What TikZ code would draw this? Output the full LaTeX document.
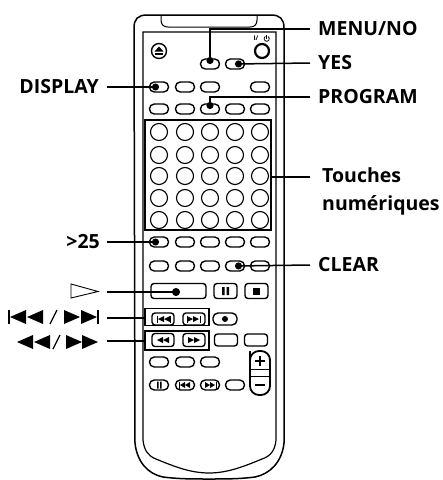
\documentclass[tikz,border=0pt]{standalone}
\usepackage{fontspec}
\setmainfont{Open Sans}
\usetikzlibrary{arrows.meta,positioning,calc,shapes.geometric}
\newcommand{\triL}[4]{\fill (#1,#2) -- ++(#3,-#4) -- ++(0,2*#4) -- cycle;}

\begin{document}
\begin{tikzpicture}[
  x=1pt, y=-1pt,
  oval/.style={draw, line width=1.4pt, rounded corners=4.8pt, minimum width=19pt, minimum height=10pt, inner sep=0pt},
  numkey/.style={draw, circle, line width=1.1pt, minimum size=17pt, inner sep=0pt},
  wide/.style={draw, line width=1.4pt, rounded corners=3pt, minimum width=#1, minimum height=13pt, inner sep=0pt},
  group/.style={draw, line width=1.7pt, inner sep=0pt},
  lab/.style={font=\fontsize{19.5}{28}\selectfont\bfseries, inner sep=0pt, align=left},
  leader/.style={line width=1.5pt, -{Circle[length=7pt]}},
  plain/.style={line width=1.5pt},
]
  \useasboundingbox (0,0) rectangle (443,480);

  % Body of the remote
  \draw[line width=1.5pt] (135,443) -- (134,28) .. controls (134,19) and (138,15) .. (147,15) -- (271,15)
    .. controls (280,15) and (284,19) .. (284,28) -- (284,443) .. controls (282,462) and (270,474) .. (255,477)
    .. controls (240,479) and (225,479) .. (209,479) .. controls (193,479) and (178,479) .. (163,477)
    .. controls (148,474) and (137,462) .. (135,443);
  \draw[line width=1.2pt] (143,440) -- (143,32) -- (276,32) -- (276,440)
    .. controls (275,450) and (271,456) .. (262,459) .. controls (245,466) and (228,473) .. (209,473)
    .. controls (190,473) and (173,466) .. (156,459) .. controls (148,456) and (144,450) .. (143,440);
  \draw[line width=1pt] (161,15) -- (161,20) .. controls (161,25) and (164,27) .. (168,27) -- (250,27)
    .. controls (254,27) and (257,25) .. (257,20) -- (257,15);

  % Top keys
  \node[draw, circle, line width=1.4pt, minimum size=15pt, inner sep=0pt] (eject) at (159,51) {};
  \fill (154.5,51.5) -- (159,46.5) -- (163.5,51.5) -- cycle;
  \fill (155,52.5) rectangle (163,54.5);
  \node[draw, circle, line width=2.2pt, minimum size=14pt, inner sep=0pt] (power) at (262,51) {};
  \node[font=\fontsize{6.5}{7}\selectfont\bfseries, inner sep=0pt] (powertxt) at (256,38.5) {I/};
  \draw[line width=0.8pt] (268,36.5) arc[start angle=-60, end angle=240, radius=2.6];
  \draw[line width=0.8pt] (266.7,35) -- (266.7,39);
  \node[oval] (menukey) at (210,64) {};
  \node[oval] (yeskey) at (235,64) {};

  % Rows of oval keys
  \foreach \xx/\nm in {159/a,185/b,210/c,260/e} \node[oval] (rowtwo\nm) at (\xx,87) {};
  \foreach \xx/\nm in {159/a,185/b,210/c,235/d,260/e} {
    \node[oval] (rowthree\nm) at (\xx,109) {};
    \node[oval] (rowfour\nm) at (\xx,242) {};
    \node[oval] (rowfive\nm) at (\xx,266) {};
  }

  % Number block
  \node[group, line width=1.9pt, minimum width=126pt, minimum height=110pt] (numblock) at (208,175) {};
  \foreach \yy in {132,155,176,198,220}
    \foreach \xx in {159,185,210,235,260}
      \node[numkey] at (\xx,\yy) {};

  % Transport keys
  \node[wide=55pt, minimum height=15pt] (playkey) at (178.5,291) {};
  \node[wide=23pt, minimum height=15pt] (pausekey) at (225.5,291) {};
  \fill (222,287) rectangle (224.5,295) (226.5,287) rectangle (229,295);
  \node[wide=23pt, minimum height=15pt] (stopkey) at (256.5,291) {};
  \fill (253,287.5) rectangle (260,294.5);
  \node[group, minimum width=64pt, minimum height=17pt] (skipblock) at (177,317) {};
  \node[group, minimum width=64pt, minimum height=19pt] (scanblock) at (177,340.5) {};
  \node[wide=22pt, minimum height=12pt] (prevkey) at (163,319) {};
  \node[wide=22pt, minimum height=12pt] (nextkey) at (194,319) {};
  \node[wide=24pt, minimum height=12pt, rounded corners=5pt] (reckey) at (225,319) {};
  \fill (225,319) circle (3);
  \node[wide=22pt] (rewkey) at (163,340) {};
  \node[wide=22pt] (ffkey) at (194,340) {};
  \node[wide=23pt, minimum height=12pt] (leftkey) at (226,340) {};
  \node[wide=23pt, minimum height=12pt] (rightkey) at (256,340) {};

  % Small marks inside the keys
  \draw[line width=0.8pt] (157,315.5) -- (157,322.5) (170,315.5) -- (170,322.5) (187,315.5) -- (187,322.5) (200,315.5) -- (200,322.5);
  \triL{158}{319}{6}{3}\triL{164}{319}{6}{3}
  \triL{193}{319}{-6}{3}\triL{199}{319}{-6}{3}
  \triL{157}{340}{6}{3}\triL{163}{340}{6}{3}
  \triL{194}{340}{-6}{3}\triL{200}{340}{-6}{3}

  % Lower keys
  \foreach \xx/\nm in {159/a,185/b,210/c} \node[oval] (rowsix\nm) at (\xx,362) {};
  \foreach \xx/\nm in {159/a,185/b,210/c,235/d} \node[oval] (rowseven\nm) at (\xx,385) {};
  \fill (157,381.5) rectangle (158.5,388.5) (160,381.5) rectangle (161.5,388.5);
  \draw[line width=0.8pt] (179,381.5) -- (179,388.5) (216,381.5) -- (216,388.5);
  \triL{180}{385}{5}{3}\triL{185}{385}{5}{3}
  \triL{210}{385}{-5}{3}\triL{215}{385}{-5}{3}
  \draw[line width=1.8pt, rounded corners=9pt] (250,360) -- (250,351) -- (270,351) -- (270,395) -- (250,395) -- cycle;
  \draw[line width=0.7pt] (251,369) -- (269,369) (251,376) -- (269,376);
  \draw[line width=1.8pt] (255,361) -- (265,361) (260,356) -- (260,366) (255,385) -- (265,385);

  % Labels
  \node[lab, anchor=west] (menulab) at (318,29) {MENU/NO};
  \node[lab, anchor=west] (yeslab) at (318,63) {YES};
  \node[lab, anchor=west] (proglab) at (318,97) {PROGRAM};
  \node[lab, anchor=west] (numlab) at (322,191) {Touches\\numériques};
  \node[lab, anchor=west] (clearlab) at (318,265) {CLEAR};
  \node[lab, anchor=east] (displab) at (99,87) {DISPLAY};
  \node[lab, anchor=east] (morelab) at (100,242) {>25};

  % Symbols on the left
  \draw[line width=0.9pt] (71,284) -- (98,291.5) -- (71,298) -- cycle;
  \fill (8,310) rectangle (10,324);
  \triL{10}{317}{16}{7}\triL{27}{317}{16}{7}
  \triL{80}{317}{-16}{7}\triL{97}{317}{-16}{7}
  \fill (97,310) rectangle (99,324);
  \draw[line width=1.2pt] (50,324) -- (57,310);
  \triL{17}{342}{16}{7}\triL{34}{342}{16}{7}
  \triL{82}{342}{-16}{7}\triL{98}{342}{-16}{7}
  \draw[line width=1.2pt] (53,349) -- (60,335);
  \coordinate (skipsym) at (107,318);
  \coordinate (scansym) at (107,341);
  \coordinate (playend) at (107,292);

  % Leaders
  \draw[leader] (menulab.west) ++(-8,0) -- (210,29) -- (menukey.center);
  \draw[leader] (yeslab.west) ++(-8,0) -- (yeskey.center);
  \draw[leader] (proglab.west) ++(-8,0) -- (210,97) -- (rowthreec.center);
  \draw[plain] (310,177) -- (numblock.east |- 0,177);
  \draw[leader] (clearlab.west) ++(-8,0) -- (rowfived.center);
  \draw[leader] (displab.east) ++(8,0) -- (rowtwoa.center);
  \draw[leader] (morelab.east) ++(7,0) -- (rowfoura.center);
  \draw[line width=1.5pt, -{Circle[length=8pt]}] (playend) -- (180,292);
  \draw[plain] (skipsym) -- (skipblock.west |- skipsym);
  \draw[plain] (scansym) -- (scanblock.west |- scansym);
\end{tikzpicture}
\end{document}
